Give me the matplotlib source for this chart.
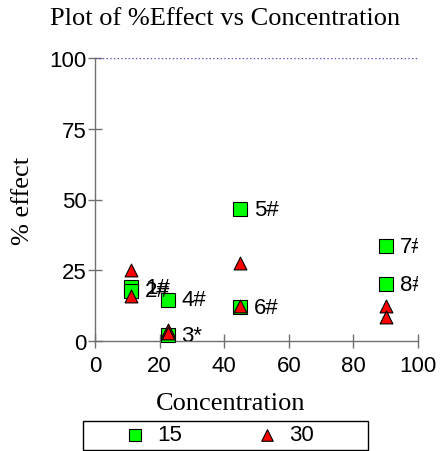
import matplotlib
matplotlib.use('Agg')
import matplotlib.pyplot as plt
from matplotlib.patches import Rectangle

# data
conc_15 = [11.25, 11.25, 22.5, 22.5, 45, 45, 90, 90]
effect_15 = [19.0, 17.8, 2.0, 14.5, 46.5, 12.0, 33.5, 20.0]
labels_15 = ['1#', '2#', '3*', '4#', '5#', '6#', '7#', '8#']

conc_30 = [11.25, 11.25, 22.5, 22.5, 45, 45, 90, 90]
effect_30 = [25.0, 16.0, 4.0, 3.0, 27.5, 12.5, 12.5, 8.5]

x_ticks = [0, 20, 40, 60, 80, 100]
y_ticks = [0, 25, 50, 75, 100]

sans = 'Liberation Sans'
serif = 'Liberation Serif'
axis_grey = '#707070'

fig = plt.figure(figsize=(4.41, 4.52), dpi=100)
ax = fig.add_axes([95 / 441, 1 - 342 / 452, 323 / 441, 283 / 452])

# reference line at 100 %
ax.axhline(100, color='#5050c0', linestyle=':', linewidth=1)

ax.scatter(conc_15, effect_15, marker='s', s=90, facecolor='#00ff00',
           edgecolor='black', linewidth=0.8, clip_on=False, zorder=3, label='15')
ax.scatter(conc_30, effect_30, marker='^', s=85, facecolor='#ff0000',
           edgecolor='black', linewidth=0.8, clip_on=False, zorder=4, label='30')

for x, y, lab in zip(conc_15, effect_15, labels_15):
    ax.annotate(lab, (x, y), xytext=(10, 0), textcoords='offset points',
                ha='left', va='center', fontsize=16, family=sans,
                clip_on=True, zorder=5)

ax.set_xlim(0, 100)
ax.set_ylim(0, 100)
ax.set_xticks(x_ticks)
ax.set_yticks(y_ticks)
ax.tick_params(direction='inout', length=10, width=1, color=axis_grey,
               labelsize=16)
ax.tick_params(axis='x', pad=5)
ax.tick_params(axis='y', pad=1)
for lbl in ax.get_xticklabels() + ax.get_yticklabels():
    lbl.set_family(sans)

for side in ['top', 'right']:
    ax.spines[side].set_visible(False)
for side in ['left', 'bottom']:
    ax.spines[side].set_color(axis_grey)
    ax.spines[side].set_linewidth(1)

fig.text(225 / 441, 1 - 19 / 452, 'Plot of %Effect vs Concentration',
         ha='center', va='center', fontsize=19, family=serif)
fig.text(231 / 441, 1 - 404 / 452, 'Concentration',
         ha='center', va='center', fontsize=19, family=serif)
fig.text(23 / 441, 1 - 201 / 452, '% effect', rotation=90,
         ha='center', va='center', fontsize=19, family=serif)

# legend box drawn separately so it can be wider than its entries
fig.patches.append(Rectangle((83 / 441, 1 - 451 / 452), 285 / 441, 29 / 452,
                             transform=fig.transFigure, facecolor='white',
                             edgecolor='black', linewidth=1, zorder=1))
leg = fig.legend(loc='center', bbox_to_anchor=(219 / 441, 1 - 436 / 452),
                 ncol=2, frameon=False, prop={'family': sans, 'size': 16},
                 handletextpad=0.5, columnspacing=3.3, borderpad=0.1,
                 markerscale=0.9, handlelength=1.0)
leg.set_zorder(2)

fig.savefig('out.png', dpi=100)
